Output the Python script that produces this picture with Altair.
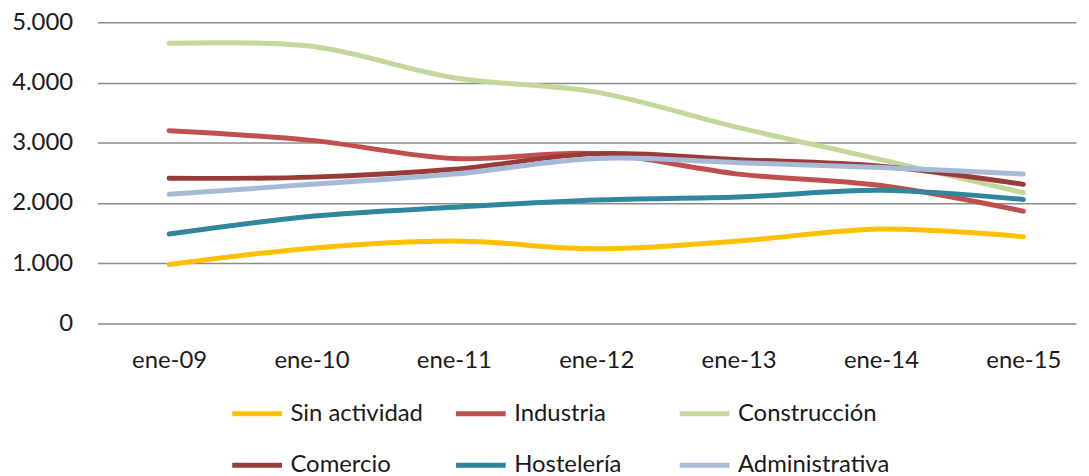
import altair as alt
import pandas as pd

months = ["ene-09", "ene-10", "ene-11", "ene-12", "ene-13", "ene-14", "ene-15"]
series_names = ["Sin actividad", "Industria", "Construcción", "Comercio", "Hostelería", "Administrativa"]
sin_actividad = [980, 1250, 1370, 1240, 1370, 1570, 1440]
industria = [3200, 3040, 2740, 2820, 2480, 2290, 1865]
construccion = [4650, 4600, 4080, 3840, 3250, 2720, 2170]
comercio = [2410, 2430, 2560, 2820, 2720, 2610, 2310]
hosteleria = [1485, 1780, 1930, 2050, 2100, 2210, 2060]
administrativa = [2145, 2310, 2480, 2740, 2670, 2590, 2480]
colors = ["#FFC000", "#C0504D", "#C4D79B", "#9B3B38", "#31859C", "#A7B9D8"]

all_values = [sin_actividad, industria, construccion, comercio, hosteleria, administrativa]
rows = []
for i, (name, vals) in enumerate(zip(series_names, all_values)):
    for k, v in enumerate(vals):
        rows.append({"idx": k, "serie": name, "valor": v, "orden": i})
df = pd.DataFrame(rows)

FONT = "Lato"
month_js = "[" + ",".join("'%s'" % m for m in months) + "]"

chart = alt.Chart(df).mark_line(
    interpolate="cardinal", strokeWidth=5, strokeCap="round"
).encode(
    x=alt.X("idx:Q", title=None,
            scale=alt.Scale(domain=[-0.503, 6.37], nice=False, zero=False),
            axis=alt.Axis(values=list(range(len(months))),
                          labelExpr=month_js + "[datum.value]",
                          labelAngle=0, domain=False, ticks=False, tickSize=0,
                          grid=False, labelPadding=25, labelFontSize=24,
                          labelFont=FONT, labelColor="#1a1a1a", labelFlush=False,
                          labelOverlap=False)),
    y=alt.Y("valor:Q", title=None,
            scale=alt.Scale(domain=[0, 5000], nice=False),
            axis=alt.Axis(values=[0, 1000, 2000, 3000, 4000, 5000],
                          labelExpr="replace(format(datum.value, ','), ',', '.')",
                          domain=False, ticks=False, tickSize=0, labelPadding=25,
                          labelFontSize=24, labelFont=FONT, labelColor="#1a1a1a",
                          gridColor="#8c8c8c", gridWidth=1.5)),
    color=alt.Color("serie:N", sort=series_names,
                    scale=alt.Scale(domain=series_names, range=colors),
                    legend=alt.Legend(title=None, orient="none", legendX=133, legendY=366,
                                      columns=3, direction="horizontal",
                                      symbolType="stroke", symbolSize=2500,
                                      symbolStrokeWidth=5, symbolOffset=0,
                                      labelOffset=6, labelFontSize=24, labelFont=FONT,
                                      labelColor="#1a1a1a", gridAlign="all",
                                      columnPadding=3, rowPadding=12, labelLimit=300)),
    order=alt.Order("orden:Q"),
    detail="serie:N",
).properties(
    width=984, height=303,
    padding={"left": 3, "top": 1, "right": 5, "bottom": 0},
).configure_view(stroke=None)

chart.save("out.html", embed_options={"renderer": "svg", "actions": False})
